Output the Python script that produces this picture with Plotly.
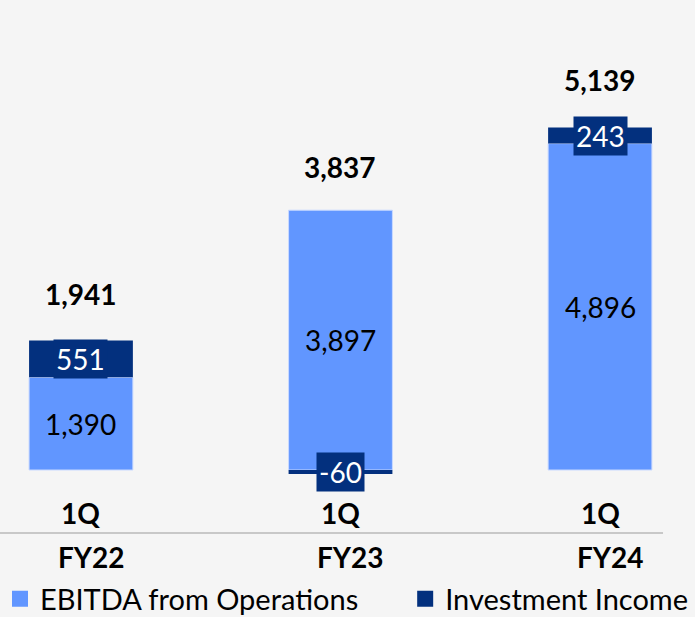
import plotly.graph_objects as go

periods = ["FY22", "FY23", "FY24"]
quarter = ["1Q", "1Q", "1Q"]
ebitda_ops = [1390, 3897, 4896]
invest_income = [551, -60, 243]
totals = [1941, 3837, 5139]

LIGHT = "#6196FF"
NAVY = "#03307E"
BG = "#F5F5F5"
FONT = "Lato"

fig = go.Figure()

fig.add_trace(go.Bar(
    x=periods, y=ebitda_ops, name="EBITDA from Operations",
    marker=dict(color=LIGHT, line=dict(color="#C9D9FF", width=1)),
    width=0.4, showlegend=False,
))
fig.add_trace(go.Bar(
    x=periods, y=invest_income, name="Investment Income",
    marker=dict(color=NAVY, line=dict(width=0)),
    width=0.4, showlegend=False,
))

# legend entries (square markers, one legend per entry so they sit side by side)
fig.add_trace(go.Scatter(x=[None], y=[None], mode="markers", name="EBITDA from Operations",
                         marker=dict(symbol="square", size=16, color=LIGHT), legend="legend"))
fig.add_trace(go.Scatter(x=[None], y=[None], mode="markers", name="Investment Income",
                         marker=dict(symbol="square", size=16, color=NAVY), legend="legend2"))

for i, p in enumerate(periods):
    # label inside the light segment
    fig.add_annotation(x=p, y=ebitda_ops[i] / 2, text=f"{ebitda_ops[i]:,}",
                       showarrow=False, font=dict(family=FONT, size=28, color="black"))
    # label on the investment income segment (navy box)
    if invest_income[i] >= 0:
        mid = ebitda_ops[i] + invest_income[i] / 2
    else:
        mid = invest_income[i] / 2
    fig.add_annotation(x=p, y=mid, text=f"{invest_income[i]:,}",
                       showarrow=False, bgcolor=NAVY, borderpad=2,
                       font=dict(family=FONT, size=28, color="white"))
    # total on top
    fig.add_annotation(x=p, y=totals[i], yshift=47, text=f"<b>{totals[i]:,}</b>",
                       showarrow=False, font=dict(family=FONT, size=28, color="black"))
    # category labels
    fig.add_annotation(x=p, y=-652, text=f"<b>{quarter[i]}</b>",
                       showarrow=False, font=dict(family=FONT, size=28, color="black"))
    fig.add_annotation(x=p, y=-1312, xshift=10, text=f"<b>{p}</b>",
                       showarrow=False, font=dict(family=FONT, size=28, color="black"))

fig.add_shape(type="line", xref="paper", yref="y", x0=0, x1=0.954, y0=-945, y1=-945,
              line=dict(color="#C8C8C8", width=2))

leg_style = dict(orientation="h", y=-0.012, yanchor="bottom",
                 font=dict(family=FONT, size=29, color="black"),
                 bgcolor="rgba(0,0,0,0)", borderwidth=0, itemclick=False)

fig.update_layout(
    width=695, height=617,
    margin=dict(l=0, r=0, t=0, b=0, autoexpand=False),
    barmode="relative",
    paper_bgcolor=BG, plot_bgcolor=BG,
    xaxis=dict(visible=False, range=[-0.312, 2.366]),
    yaxis=dict(visible=False, range=[-2205, 7050]),
    legend=dict(x=0.0, xanchor="left", **leg_style),
    legend2=dict(x=0.583, xanchor="left", **leg_style),
    font=dict(family=FONT),
)

# drop the browser's default page margin so the figure fills the window
fig.write_html("out.html", config={"displayModeBar": False},
               post_script="document.body.style.margin='0';")
